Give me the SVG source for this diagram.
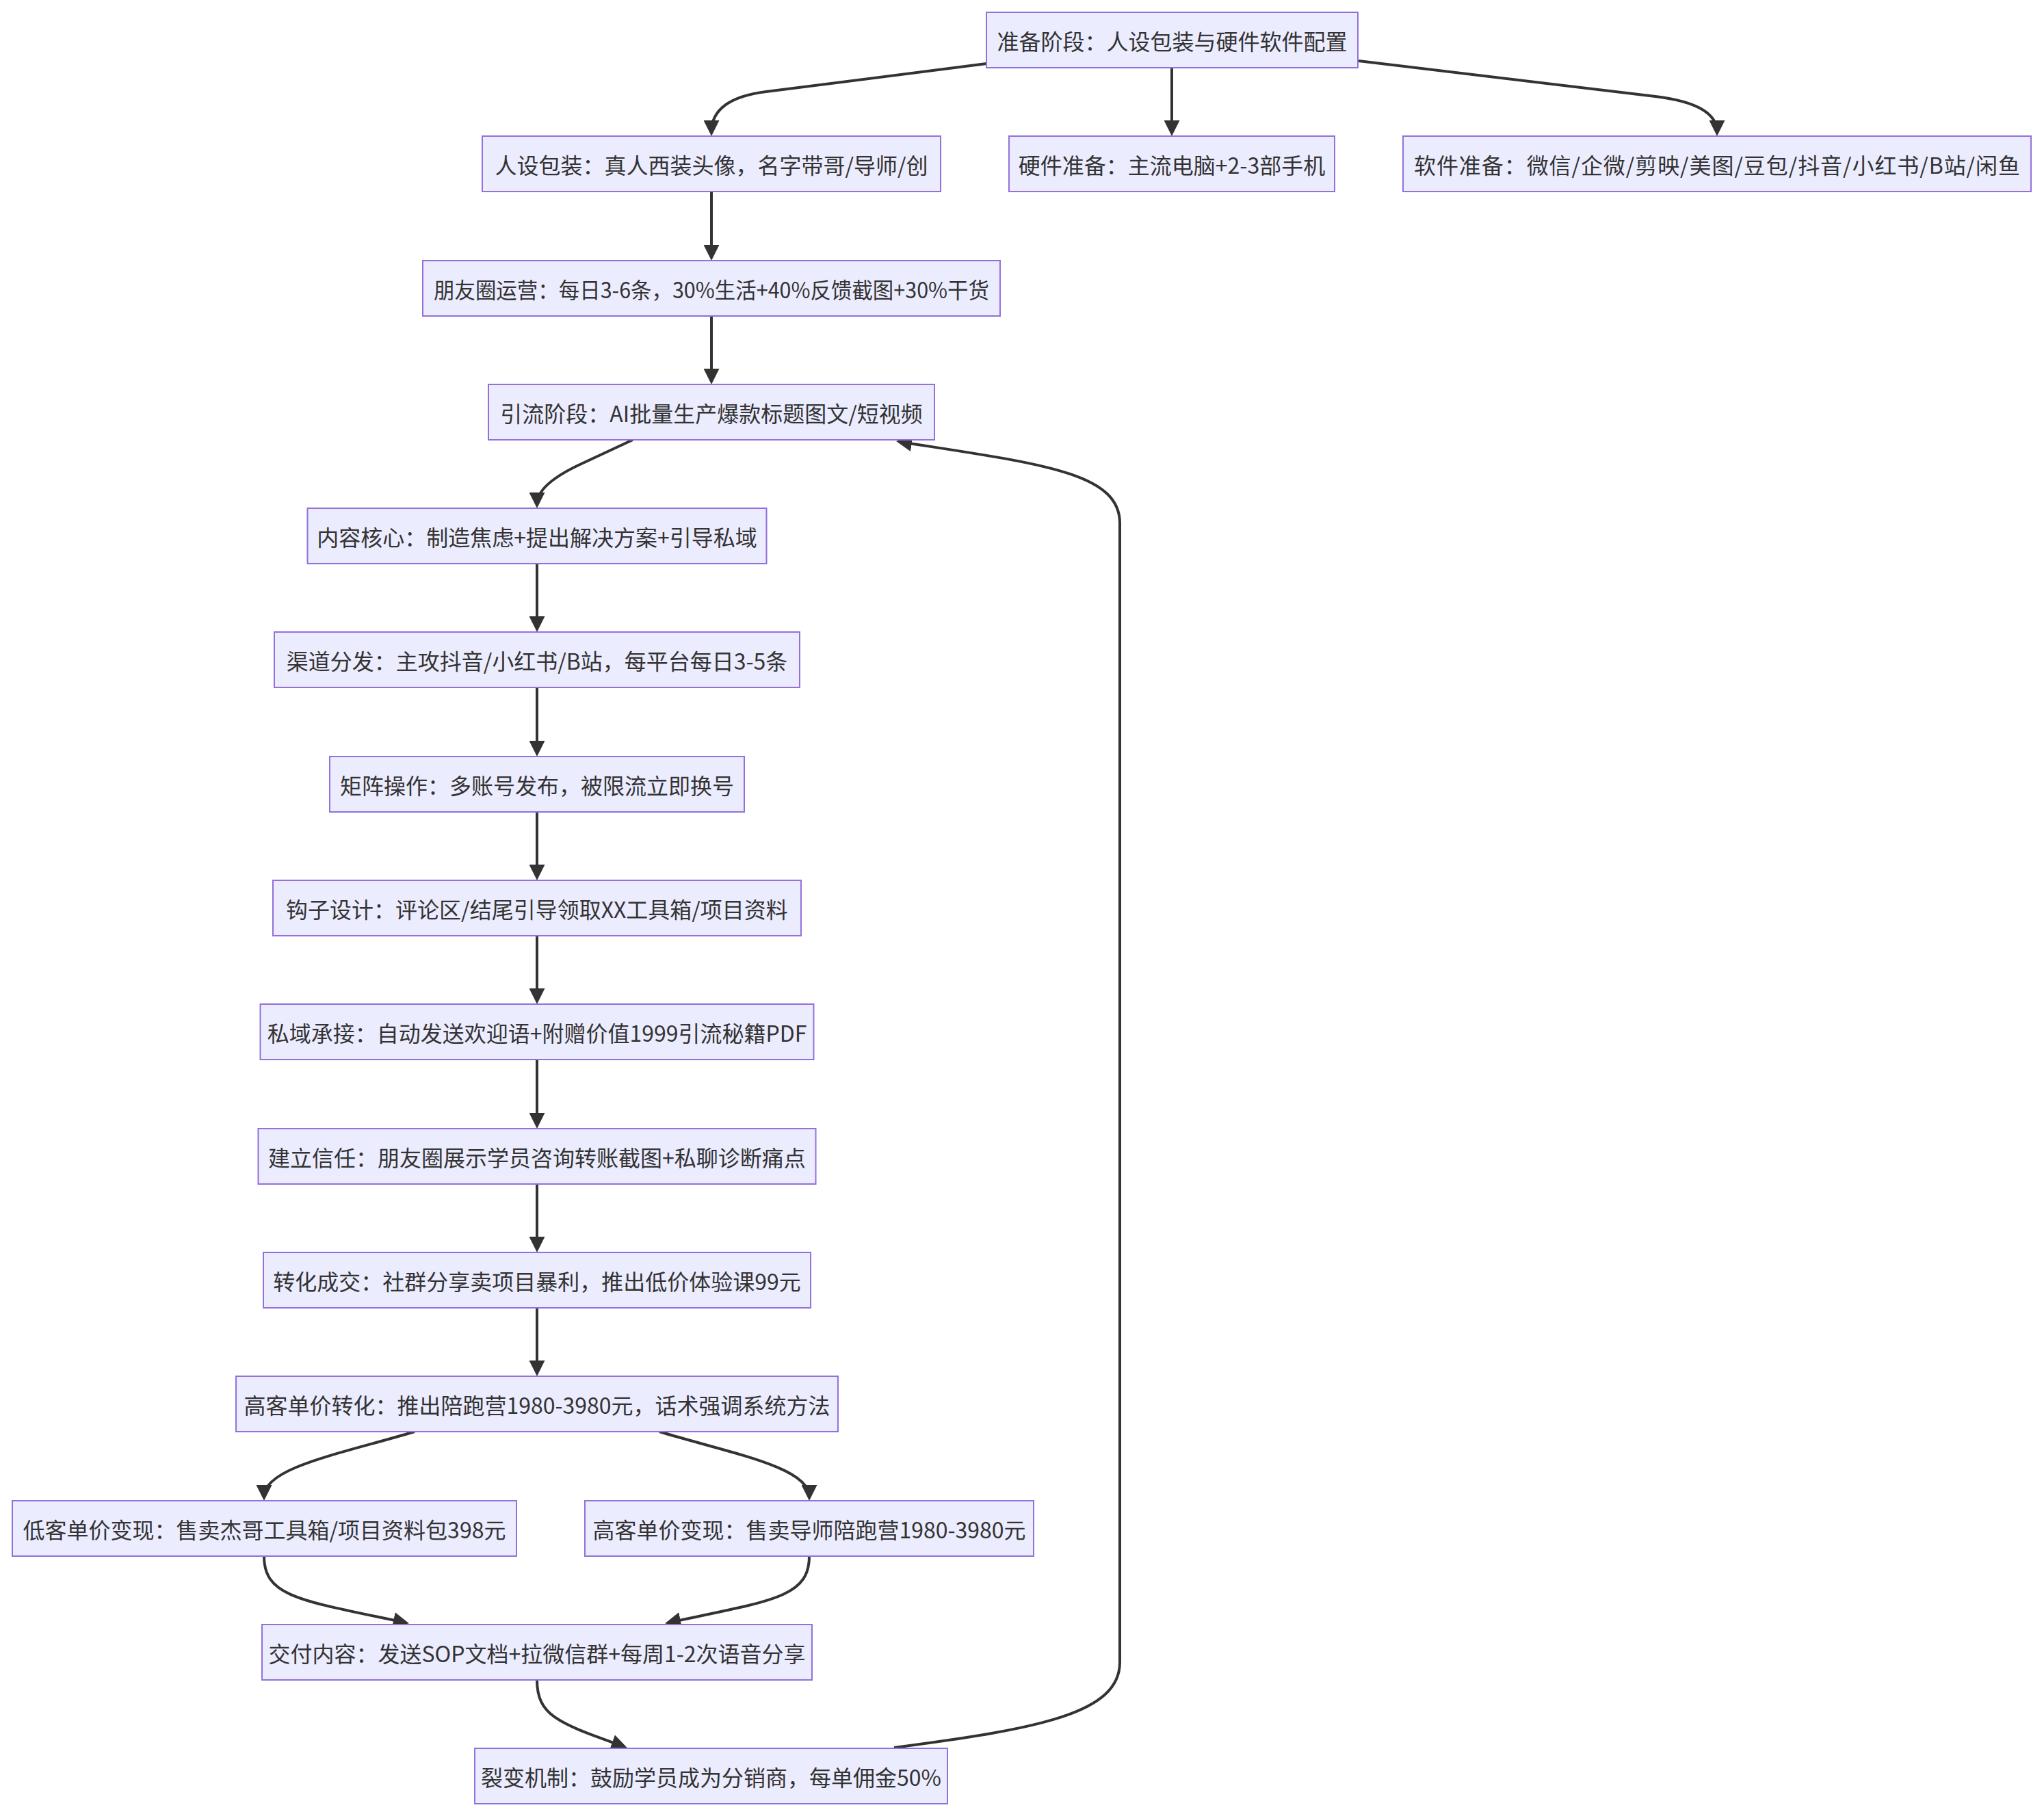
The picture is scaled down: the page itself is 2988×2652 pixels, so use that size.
<svg xmlns="http://www.w3.org/2000/svg" width="2988" height="2652" viewBox="0 0 2988 2652">
<style>
.node rect{fill:#ECECFF;stroke:#9370DB;stroke-width:2}
.node text{font-family:"Noto Sans CJK SC","Noto Sans",sans-serif;font-size:32px;fill:#333;text-anchor:middle;dominant-baseline:central}
.edges path{fill:none;stroke:#333;stroke-width:4;marker-end:url(#arrow)}
</style>
<defs>
<marker id="arrow" viewBox="0 0 10 10" refX="7.4" refY="5" markerWidth="23" markerHeight="23" markerUnits="userSpaceOnUse" orient="auto">
<path d="M0,0 L10,5 L0,10 z" fill="#333"/>
</marker>
</defs>
<rect width="2988" height="2652" fill="#fff"/>
<g class="edges">
<path d="M1442,93 L1120,134 Q1040,144 1040,193"/>
<path d="M1713,99 L1713,193"/>
<path d="M1986,89 L2420,141 Q2510,152 2510,193"/>
<path d="M1040,280 L1040,375"/>
<path d="M1040,462 L1040,556"/>
<path d="M925,643 L850,678 Q785,708 785,737"/>
<path d="M785,824 L785,918"/>
<path d="M785,1005 L785,1100"/>
<path d="M785,1187 L785,1281"/>
<path d="M785,1368 L785,1462"/>
<path d="M785,1549 L785,1644"/>
<path d="M785,1731 L785,1825"/>
<path d="M785,1912 L785,2006"/>
<path d="M606,2093 C500,2125 386,2145 386,2188"/>
<path d="M964,2093 C1070,2125 1183,2145 1183,2188"/>
<path d="M386,2275 C386,2335 440,2340 592,2372"/>
<path d="M1183,2275 C1183,2335 1130,2340 978,2372"/>
<path d="M785,2456 C785,2510 820,2520 911,2553"/>
<path d="M1307,2555 C1520,2527 1637,2505 1637,2430 L1637,765 C1637,690 1520,678 1316,646"/>
</g>
<g id="n0" class="node"><rect x="1442" y="18" width="543" height="81"/><text x="1713.5" y="58.5">准备阶段：人设包装与硬件软件配置</text></g>
<g id="n1" class="node"><rect x="705" y="199" width="670" height="81"/><text x="1040" y="239.5">人设包装：真人西装头像，名字带哥/导师/创</text></g>
<g id="n2" class="node"><rect x="1475" y="199" width="476" height="81"/><text x="1713" y="239.5">硬件准备：主流电脑+2-3部手机</text></g>
<g id="n3" class="node"><rect x="2051" y="199" width="918" height="81"/><text x="2510" y="239.5" textLength="886" lengthAdjust="spacing">软件准备：微信/企微/剪映/美图/豆包/抖音/小红书/B站/闲鱼</text></g>
<g id="n4" class="node"><rect x="618" y="381" width="844" height="81"/><text x="1040" y="421.5" textLength="812" lengthAdjust="spacingAndGlyphs">朋友圈运营：每日3-6条，30%生活+40%反馈截图+30%干货</text></g>
<g id="n5" class="node"><rect x="714" y="562" width="652" height="81"/><text x="1040" y="602.5">引流阶段：AI批量生产爆款标题图文/短视频</text></g>
<g id="n6" class="node"><rect x="449.5" y="743" width="671" height="81"/><text x="785" y="783.5">内容核心：制造焦虑+提出解决方案+引导私域</text></g>
<g id="n7" class="node"><rect x="401" y="924" width="768" height="81"/><text x="785" y="964.5">渠道分发：主攻抖音/小红书/B站，每平台每日3-5条</text></g>
<g id="n8" class="node"><rect x="482" y="1106" width="606" height="81"/><text x="785" y="1146.5">矩阵操作：多账号发布，被限流立即换号</text></g>
<g id="n9" class="node"><rect x="399" y="1287" width="772" height="81"/><text x="785" y="1327.5">钩子设计：评论区/结尾引导领取XX工具箱/项目资料</text></g>
<g id="n10" class="node"><rect x="380.5" y="1468" width="809" height="81"/><text x="785" y="1508.5">私域承接：自动发送欢迎语+附赠价值1999引流秘籍PDF</text></g>
<g id="n11" class="node"><rect x="377.5" y="1650" width="815" height="81"/><text x="785" y="1690.5">建立信任：朋友圈展示学员咨询转账截图+私聊诊断痛点</text></g>
<g id="n12" class="node"><rect x="385" y="1831" width="800" height="81"/><text x="785" y="1871.5">转化成交：社群分享卖项目暴利，推出低价体验课99元</text></g>
<g id="n13" class="node"><rect x="345" y="2012" width="880" height="81"/><text x="785" y="2052.5">高客单价转化：推出陪跑营1980-3980元，话术强调系统方法</text></g>
<g id="n14" class="node"><rect x="18" y="2194" width="737" height="81"/><text x="386.5" y="2234.5">低客单价变现：售卖杰哥工具箱/项目资料包398元</text></g>
<g id="n15" class="node"><rect x="855" y="2194" width="656" height="81"/><text x="1183" y="2234.5">高客单价变现：售卖导师陪跑营1980-3980元</text></g>
<g id="n16" class="node"><rect x="383" y="2375" width="804" height="81"/><text x="785" y="2415.5">交付内容：发送SOP文档+拉微信群+每周1-2次语音分享</text></g>
<g id="n17" class="node"><rect x="694" y="2556" width="691" height="81"/><text x="1039.5" y="2596.5">裂变机制：鼓励学员成为分销商，每单佣金50%</text></g>
</svg>
